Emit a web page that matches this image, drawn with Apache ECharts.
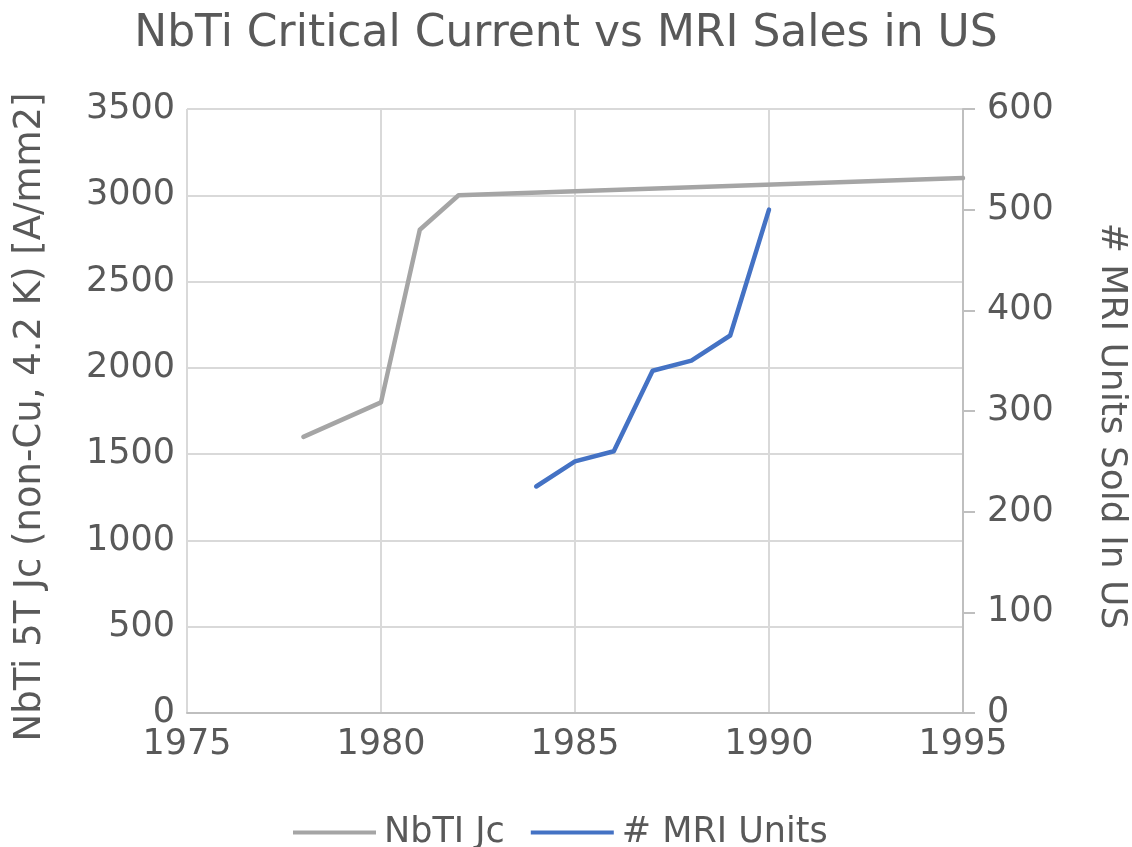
<!DOCTYPE html>
<html>
<head>
<meta charset="utf-8">
<script src="https://cdn.jsdelivr.net/npm/echarts@6/dist/echarts.min.js"></script>
<style>
  html, body { margin: 0; padding: 0; background: #fff; overflow: hidden; }
  #chart { width: 1132px; height: 847px; }
</style>
</head>
<body>
<div id="chart"></div>
<script>
// Critical current density of NbTi wire (left axis) by year
const jcYears = [1978, 1980, 1981, 1982, 1995];
const jcValues = [1600, 1800, 2800, 3000, 3100];

// MRI units sold in the US (right axis) by year
const mriYears = [1984, 1985, 1986, 1987, 1988, 1989, 1990];
const mriValues = [225, 250, 260, 340, 350, 375, 500];

const seriesNames = ['NbTI Jc', '# MRI Units'];
const titleText = 'NbTi Critical Current vs MRI Sales in US';
const leftAxisName = 'NbTi 5T Jc (non-Cu, 4.2 K) [A/mm2]';
const rightAxisName = '# MRI Units Sold In US';

const FONT = 'DejaVu Sans';
const TXT = '#595959';
const plain = v => String(v);

const chart = echarts.init(document.getElementById('chart'));
chart.setOption({
  animation: false,
  backgroundColor: '#fff',
  textStyle: { fontFamily: FONT, color: TXT },
  title: {
    text: titleText,
    left: 'center',
    top: 8,
    textStyle: { fontFamily: FONT, fontSize: 44, fontWeight: 'normal', color: TXT }
  },
  legend: {
    top: 810,
    left: 288,
    itemWidth: 83,
    itemHeight: 4,
    itemGap: 26,
    textStyle: { fontFamily: FONT, fontSize: 35, color: TXT, padding: [0, 0, 0, 3] },
    data: [
      { name: seriesNames[0], icon: 'rect' },
      { name: seriesNames[1], icon: 'rect' }
    ]
  },
  grid: {
    left: 187, right: 169, top: 109, bottom: 134,
    containLabel: false,
    outerBoundsMode: 'none'
  },
  xAxis: {
    type: 'value',
    min: 1975, max: 1995, interval: 5,
    axisLine: { show: true, lineStyle: { color: '#bfbfbf', width: 2 } },
    axisTick: { show: false },
    axisLabel: { fontSize: 35, color: TXT, margin: 14, fontFamily: FONT, formatter: plain },
    splitLine: { show: true, lineStyle: { color: '#d9d9d9', width: 2 } }
  },
  yAxis: [
    {
      type: 'value',
      min: 0, max: 3500, interval: 500,
      name: leftAxisName,
      nameLocation: 'middle',
      nameGap: 138,
      nameTextStyle: { fontSize: 37, color: TXT, fontFamily: FONT, padding: [0, 12, 0, 0] },
      axisLine: { show: false },
      axisTick: { show: false },
      axisLabel: { fontSize: 35, color: TXT, margin: 12, fontFamily: FONT, formatter: plain },
      splitLine: { show: true, lineStyle: { color: '#d9d9d9', width: 2 } }
    },
    {
      type: 'value',
      min: 0, max: 600, interval: 100,
      position: 'right',
      name: rightAxisName,
      nameLocation: 'middle',
      nameGap: 130,
      nameRotate: -90,
      nameTextStyle: { fontSize: 36, color: TXT, fontFamily: FONT, padding: [0, 0, 0, 30] },
      axisLine: { show: true, lineStyle: { color: '#bfbfbf', width: 2 } },
      axisTick: { show: true, length: 12, lineStyle: { color: '#bfbfbf', width: 2 } },
      axisLabel: { fontSize: 35, color: TXT, margin: 24, fontFamily: FONT, formatter: plain },
      splitLine: { show: false }
    }
  ],
  series: [
    {
      name: seriesNames[0],
      type: 'line',
      yAxisIndex: 0,
      data: jcYears.map((y, i) => [y, jcValues[i]]),
      showSymbol: false,
      symbol: 'none',
      lineStyle: { color: '#A5A5A5', width: 4.5, cap: 'round', join: 'round' },
      itemStyle: { color: '#A5A5A5' }
    },
    {
      name: seriesNames[1],
      type: 'line',
      yAxisIndex: 1,
      data: mriYears.map((y, i) => [y, mriValues[i]]),
      showSymbol: false,
      symbol: 'none',
      lineStyle: { color: '#4472C4', width: 4.5, cap: 'round', join: 'round' },
      itemStyle: { color: '#4472C4' }
    }
  ]
});
</script>
</body>
</html>
